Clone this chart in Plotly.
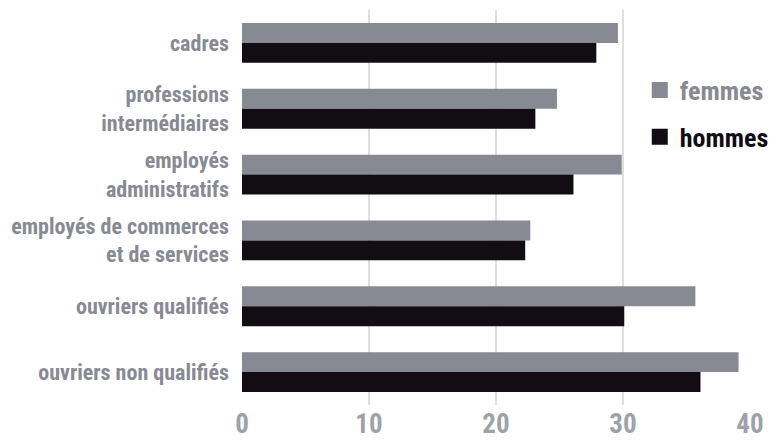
import plotly.graph_objects as go

categories = [
    "cadres",
    "professions<br>intermédiaires",
    "employés<br>administratifs",
    "employés de commerces<br>et de services",
    "ouvriers qualifiés",
    "ouvriers non qualifiés",
]
femmes = [29.6, 24.8, 29.9, 22.7, 35.7, 39.1]
hommes = [27.9, 23.1, 26.1, 22.3, 30.1, 36.1]
x_ticks = [0, 10, 20, 30, 40]

GRAY = "#878a93"
BLACK = "#120d13"
FONT = "Liberation Sans Narrow, Roboto Condensed, DejaVu Sans Condensed, sans-serif"

fig = go.Figure()
fig.add_trace(go.Bar(y=categories, x=femmes, orientation="h", name="femmes",
                     marker=dict(color=GRAY, line=dict(width=0)), showlegend=False))
fig.add_trace(go.Bar(y=categories, x=hommes, orientation="h", name="hommes",
                     marker=dict(color=BLACK, line=dict(width=0)), showlegend=False))
# legend-only entries with larger square swatches
fig.add_trace(go.Scatter(x=[None], y=[None], mode="markers", legendgroup="f",
                         name="<span style='color:%s'>femmes</span>" % GRAY,
                         marker=dict(symbol="square", size=21, color=GRAY)))
fig.add_trace(go.Scatter(x=[None], y=[None], mode="markers", legendgroup="h",
                         name="<span style='color:%s'>hommes</span>" % BLACK,
                         marker=dict(symbol="square", size=21, color=BLACK)))

fig.update_layout(
    width=776, height=441,
    margin=dict(l=242, r=26, t=10, b=36, autoexpand=False),
    paper_bgcolor="white", plot_bgcolor="white",
    barmode="group", bargap=0.394, bargroupgap=0,
    font=dict(family=FONT, color=GRAY),
    showlegend=True,
    legend=dict(x=0.783, y=0.857, xanchor="left", yanchor="top",
                bgcolor="rgba(0,0,0,0)", font=dict(size=26, family=FONT, weight="bold"),
                itemwidth=30, traceorder="grouped", tracegroupgap=10),
)
fig.update_yaxes(autorange="reversed", showgrid=False, showline=False, zeroline=False,
                 ticks="", ticklabelstandoff=12, automargin=False,
                 tickfont=dict(size=22, color=GRAY, family=FONT, weight="bold"))
fig.update_xaxes(range=[0, 40], tickvals=x_ticks, ticktext=[str(v) for v in x_ticks],
                 showgrid=True, gridcolor="#dedede", gridwidth=2, zeroline=False,
                 showline=False, ticks="", automargin=False, ticklabelstandoff=0,
                 tickfont=dict(size=27, color="#9ea1a8", family=FONT, weight="bold"))

fig.write_html("out.html")
